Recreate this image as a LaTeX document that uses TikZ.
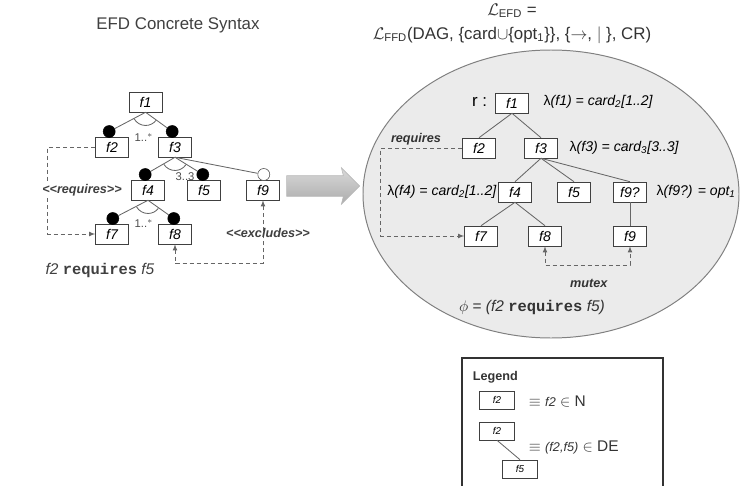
\documentclass[tikz,border=0pt]{standalone}
\usepackage{fontspec}
\setmainfont{Liberation Sans}
\setmonofont{Liberation Mono}
\usepackage{amsmath}
\usetikzlibrary{positioning}
\usetikzlibrary{calc}
\usetikzlibrary{shapes}
\usetikzlibrary{arrows}
\tikzset{featbox/.style={draw=black!75, fill=white, minimum width=0.825cm, minimum height=0.5cm, inner sep=1pt, font=\itshape}}
\tikzset{mandot/.style={circle, draw=black, fill=black, inner sep=0pt, minimum size=0.3cm}}
\tikzset{optdot/.style={circle, draw=black!70, fill=white, inner sep=0pt, minimum size=0.3cm}}
\tikzset{legbox/.style={draw=black!75, fill=white, minimum width=0.875cm, minimum height=0.45cm, inner sep=1pt, font=\itshape\scriptsize}}
\tikzset{treeline/.style={draw=black!60, line width=0.6pt}}
\tikzset{dashlink/.style={draw=black!60, densely dashed, line width=0.5pt, >=latex}}
\tikzset{lambdalbl/.style={font=\itshape, inner sep=1pt}}
\tikzset{stereo/.style={font=\bfseries\itshape\small, text=black!75, inner sep=1pt}}

\begin{document}
\begin{tikzpicture}

\useasboundingbox (0,0) rectangle (18.575,-12.15);

\node[font=\large, text=black!75] (synt) at (4.45,-0.625) {EFD Concrete Syntax};

\node[featbox] (f1) at (3.64,-2.55) {f1};
\node[featbox] (f2) at (2.8,-3.675) {f2};
\node[featbox] (f3) at (4.375,-3.675) {f3};
\node[featbox] (f4) at (3.7,-4.75) {f4};
\node[featbox] (f5) at (5.1,-4.75) {f5};
\node[featbox] (f9) at (6.575,-4.75) {f9};
\node[featbox] (f7) at (2.8,-5.85) {f7};
\node[featbox] (f8) at (4.375,-5.85) {f8};

\node[mandot] (d2) at ($(f2.north)+(-0.07,0.13)$) {};
\node[mandot] (d3) at ($(f3.north)+(-0.07,0.13)$) {};
\node[mandot] (d4) at ($(f4.north)+(-0.07,0.13)$) {};
\node[mandot] (d5) at ($(f5.north)+(-0.03,0.13)$) {};
\node[optdot] (d9) at ($(f9.north)+(0.02,0.13)$) {};
\node[mandot] (d7) at ($(f7.north)+(0.02,0.13)$) {};
\node[mandot] (d8) at ($(f8.north)+(-0.03,0.13)$) {};

\draw[treeline] (f1.south) -- (d2);
\draw[treeline] (f1.south) -- (d3);
\draw[treeline] (f3.south) -- (d4);
\draw[treeline] (f3.south) -- (d5);
\draw[treeline] (f3.south) -- (d9);
\draw[treeline] (f4.south) -- (d7);
\draw[treeline] (f4.south) -- (d8);

\draw[treeline] (f1.south) ++(209:0.33) arc[start angle=209, end angle=324, radius=0.33];
\draw[treeline] (f3.south) ++(212:0.33) arc[start angle=212, end angle=326, radius=0.33];
\draw[treeline] (f4.south) ++(210:0.33) arc[start angle=210, end angle=322, radius=0.33];

\node[font=\footnotesize, text=black!70] (card1) at (3.6,-3.45) {1..$^*$};
\node[font=\footnotesize, text=black!70] (card2) at (4.625,-4.425) {3..3};
\node[font=\footnotesize, text=black!70] (card3) at (3.6,-5.6) {1..$^*$};

\draw[dashlink, ->] (f2.west) -- ++(-1.19,0) |- (f7.west);
\draw[dashlink, <->] (f8.south) -- ++(0,-0.475) -| (f9.south);

\node[stereo, fill=white] (reqL) at (2.05,-4.75) {<{}<requires>{}>};
\node[stereo] (exclL) at (6.7,-5.825) {<{}<excludes>{}>};
\node[text=black!75, font=\fontsize{11}{13}\selectfont] (reqTxt) at (2.5,-6.75) {\textit{f2} \texttt{\bfseries requires} \textit{f5}};

\node[single arrow, draw=gray!55, top color=gray!30, bottom color=gray!65, minimum height=1.825cm, inner xsep=0pt, inner ysep=0.25cm, single arrow head extend=0.2cm, single arrow head indent=0.05cm] (bigarrow) at (7.95,-4.65) {};

\node[text=black!80, font=\large, inner sep=0pt] (lefd) at (12.8,-0.27) {$\mathcal{L}$\textsubscript{EFD} =};
\node[text=black!80, font=\large, inner sep=0pt] (lffd) at (12.8,-0.87) {$\mathcal{L}$\textsubscript{FFD}(DAG, \{card$\cup$\{opt\textsubscript{1}\}\}, \{$\to$, $|$ \}, CR)};

\draw[fill=gray!16, draw=black!50, line width=0.7pt] (13.775,-4.85) ellipse [x radius=4.7, y radius=3.6];

\node[featbox] (g1) at (12.8,-2.575) {f1};
\node[featbox] (g2) at (11.975,-3.7) {f2};
\node[featbox] (g3) at (13.525,-3.7) {f3};
\node[featbox] (g4) at (12.875,-4.8) {f4};
\node[featbox] (g5) at (14.35,-4.8) {f5};
\node[featbox] (g9q) at (15.75,-4.8) {f9?};
\node[featbox] (g7) at (12.025,-5.9) {f7};
\node[featbox] (g8) at (13.625,-5.9) {f8};
\node[featbox] (g9) at (15.75,-5.9) {f9};

\node[font=\large, anchor=east] (root) at (12.3,-2.55) {r :};
\node[lambdalbl, anchor=west] (lam1) at (13.55,-2.55) {\upshape λ\itshape(f1) = card\textsubscript{2}[1..2]};
\node[lambdalbl, anchor=west] (lam3) at (14.2,-3.7) {\upshape λ\itshape(f3) = card\textsubscript{3}[3..3]};
\node[lambdalbl, anchor=east] (lam4) at (12.45,-4.8) {\upshape λ\itshape(f4) = card\textsubscript{2}[1..2]};
\node[lambdalbl, anchor=west] (lam9) at (16.375,-4.8) {\upshape λ\itshape(f9?) = opt\textsubscript{1}};

\draw[treeline] (g1.south) -- (g2.north);
\draw[treeline] (g1.south) -- (g3.north);
\draw[treeline] (g3.south) -- (g4.north);
\draw[treeline] (g3.south) -- (g5.north);
\draw[treeline] (g3.south) -- (g9q.north);
\draw[treeline] (g4.south) -- (g7.north);
\draw[treeline] (g4.south) -- (g8.north);
\draw[treeline] (g9q.south) -- (g9.north);

\draw[dashlink, ->] (g2.west) -- ++(-2.04,0) |- (g7.west);
\draw[dashlink, <->] (g8.south) -- ++(0,-0.475) -| (g9.south);

\node[font=\bfseries\itshape\small, text=black!80] (reqR) at (10.4,-3.475) {requires};
\node[font=\bfseries\itshape\small, text=black!80] (mutexR) at (14.72,-7.075) {mutex};
\node[text=black!80, font=\fontsize{11}{13}\selectfont] (phiR) at (13.3,-7.675) {$\phi$ = \textit{(f2} \texttt{\bfseries requires} \textit{f5)}};

\draw[black!80, line width=0.8pt] (11.55,-12.3) |- (16.575,-8.95) -- (16.575,-12.3);
\node[font=\bfseries\small, anchor=west, text=black!80] (legT) at (11.7,-9.425) {Legend};
\node[legbox] (lf2a) at (12.425,-10.0) {f2};
\node[legbox] (lf2b) at (12.425,-10.775) {f2};
\node[legbox] (lf5) at (13.0,-11.725) {f5};
\draw[treeline] (lf2b.south) -- (lf5.north);
\node[anchor=west, text=black!80, font=\fontsize{11}{13}\selectfont] (legN) at (13.1,-10.025) {$\equiv$ \textit{\small f2} $\in$ N};
\node[anchor=west, text=black!80, font=\fontsize{11}{13}\selectfont] (legDE) at (13.1,-11.175) {$\equiv$ \textit{\small (f2,f5)} $\in$ DE};

\end{tikzpicture}
\end{document}
